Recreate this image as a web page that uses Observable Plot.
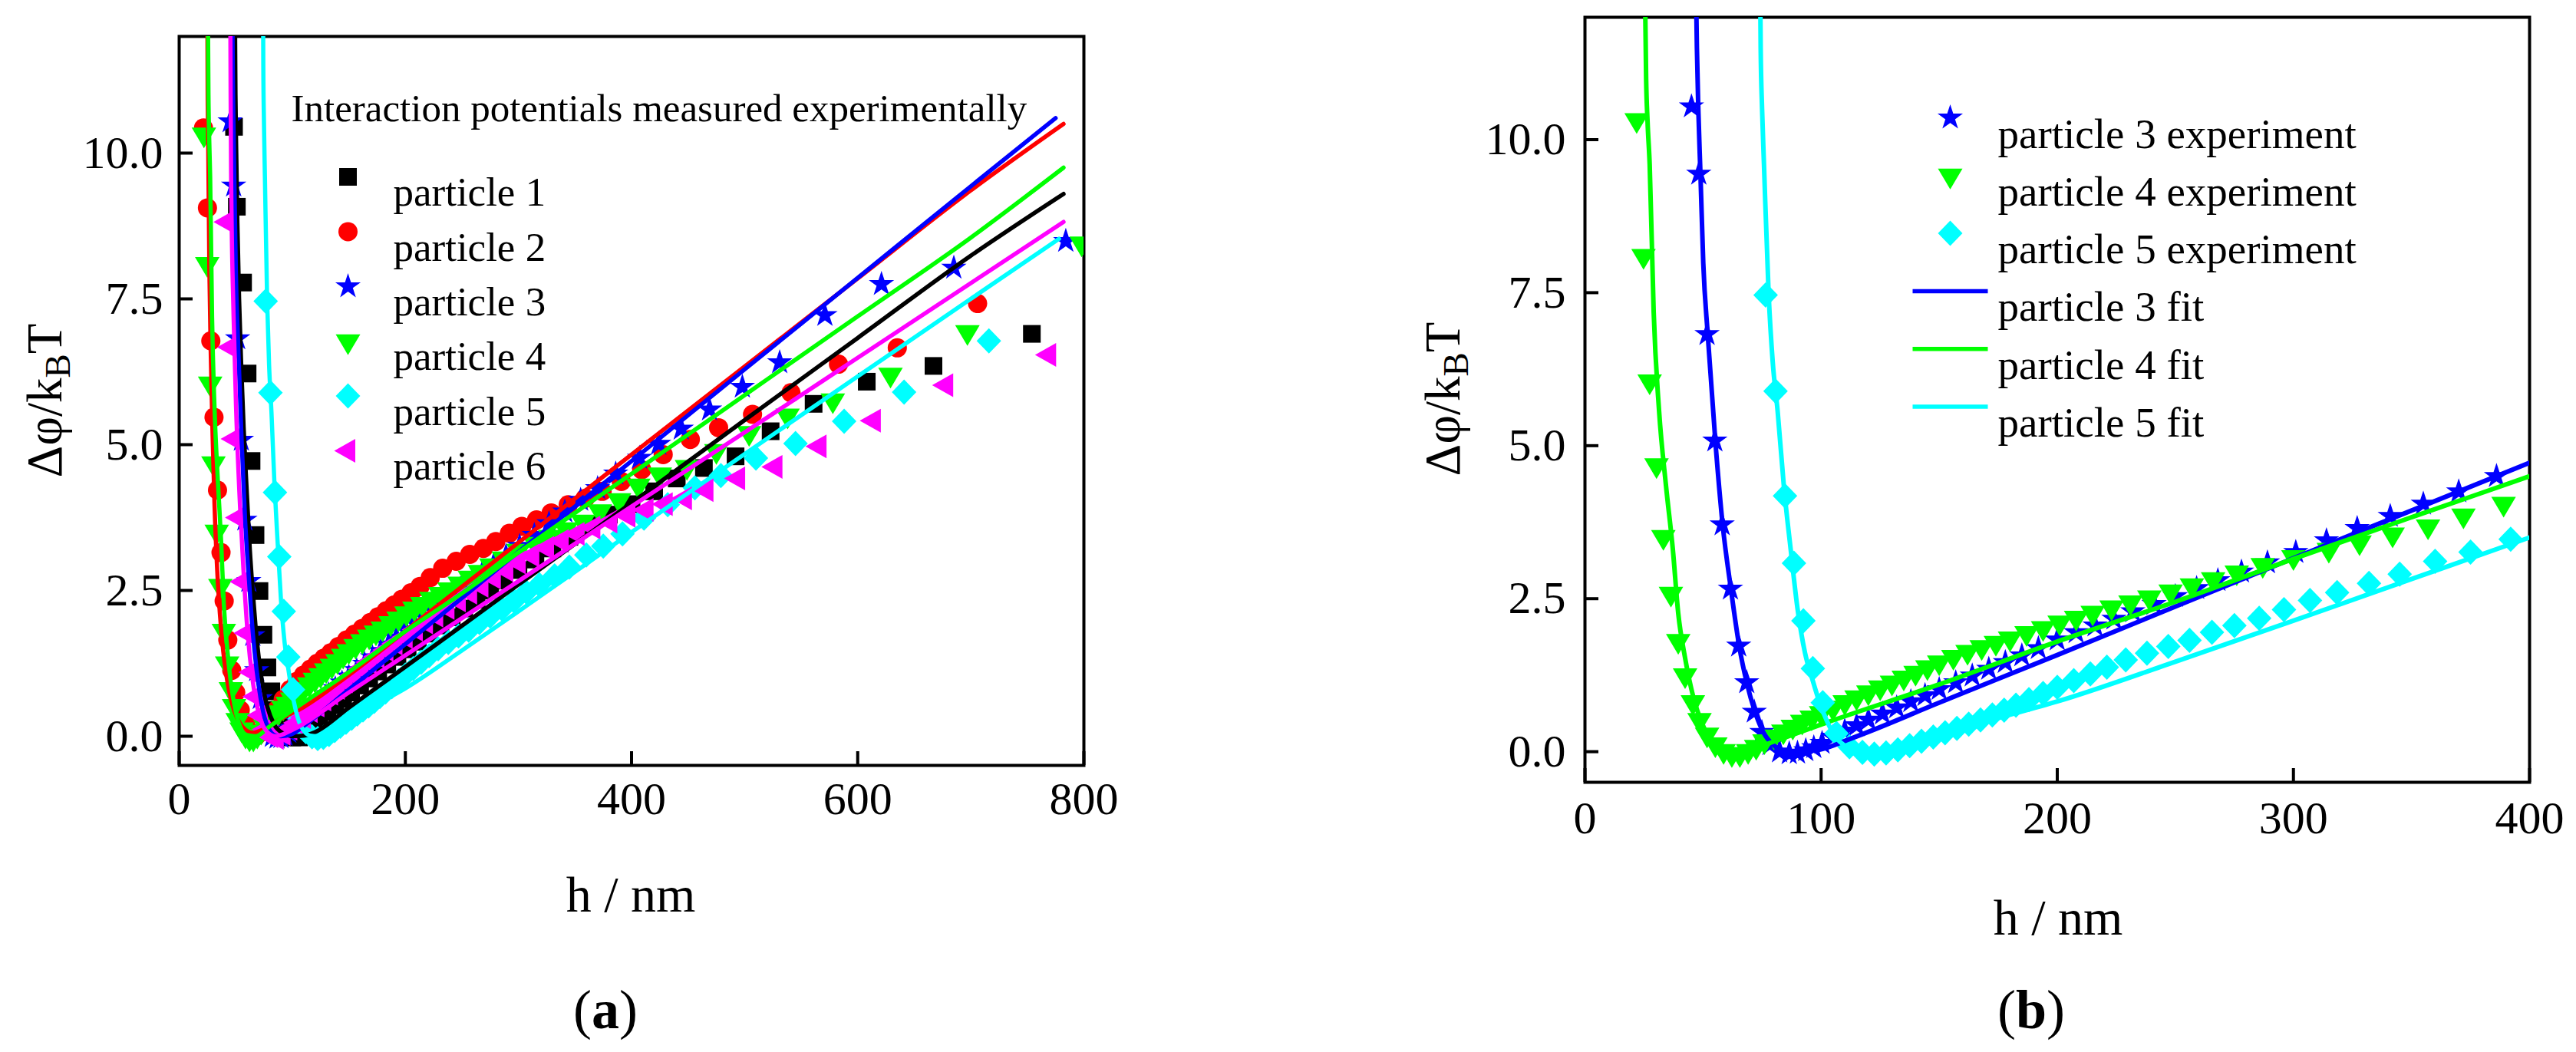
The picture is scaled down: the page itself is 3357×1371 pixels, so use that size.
<!DOCTYPE html>
<html>
<head>
<meta charset="utf-8">
<script src="https://cdn.jsdelivr.net/npm/d3@7"></script>
<script src="https://cdn.jsdelivr.net/npm/@observablehq/plot@0.6"></script>
<style>
  body { margin: 0; background: #fff; }
  #wrap { position: relative; width: 3357px; height: 1371px; font-family: "Liberation Serif", serif; color: #000; }
  .panel { position: absolute; top: 0; }
  .lab { position: absolute; white-space: nowrap; line-height: 1; }
  .ylab { transform: translate(-50%, -50%) rotate(-90deg); font-size: 65px; }
  .xlab { transform: translateX(-50%); font-size: 66px; }
  .tag { transform: translateX(-50%); font-size: 72px; }
  sub { font-size: 0.72em; vertical-align: -0.25em; line-height: 0; }
</style>
</head>
<body>
<div id="wrap">
  <div id="pa" class="panel" style="left:0"></div>
  <div id="pb" class="panel" style="left:1680px"></div>
  <div class="lab ylab" style="left:58px; top:522px">Δφ/k<sub>B</sub>T</div>
  <div class="lab ylab" style="left:1880px; top:520px">Δφ/k<sub>B</sub>T</div>
  <div class="lab xlab" style="left:822px; top:1133px">h / nm</div>
  <div class="lab xlab" style="left:2682px; top:1163px">h / nm</div>
  <div class="lab tag" style="left:789px; top:1280px">(<b>a</b>)</div>
  <div class="lab tag" style="left:2647px; top:1280px">(<b>b</b>)</div>
</div>
<script>
// measured points [h (nm), Δφ/kBT]
const p1Exp = [[48.5,10.45],[51,9.08],[56.5,7.78],[60.5,6.22],[64,4.72],[67.5,3.45],[71,2.49],[74.5,1.74],[78,1.18],[81.5,0.77],[85,0.45],[89,0.22],[94,0.06],[100,-0.02],[106,-0.02],[112,0.08],[118,0.2],[124,0.3],[131,0.42],[138,0.53],[145,0.64],[152,0.75],[160,0.87],[168,0.99],[176,1.11],[184,1.23],[193,1.36],[202,1.49],[211,1.62],[221,1.76],[231,1.9],[241,2.04],[252,2.19],[263,2.34],[275,2.5],[287,2.67],[300,2.85],[315,3.03],[330,3.22],[345,3.42],[362,3.62],[380,3.8],[400,3.98],[420,4.2],[440,4.42],[464,4.6],[492,4.8],[523,5.23],[561,5.7],[608,6.08],[667,6.35],[754,6.9]];
const p2Exp = [[21.5,10.43],[25,9.06],[28,6.78],[30.8,5.47],[33.9,4.22],[37,3.15],[39.8,2.32],[43,1.65],[46.5,1.13],[50,0.75],[54,0.45],[58.5,0.22],[63,0.07],[68,0],[74,0.08],[80,0.25],[86,0.45],[92,0.63],[98,0.8],[104,0.94],[110,1.05],[116,1.15],[122,1.25],[128,1.34],[134,1.43],[141,1.54],[148,1.65],[155,1.75],[162,1.85],[169,1.95],[176,2.05],[183,2.15],[190,2.25],[197,2.35],[205,2.46],[213,2.57],[222,2.72],[233,2.88],[245,3.0],[257,3.12],[269,3.22],[280,3.34],[292,3.48],[303,3.6],[316,3.71],[329,3.83],[344,3.97],[359,4.08],[374,4.2],[391,4.37],[409,4.57],[428,4.83],[452,5.09],[477,5.29],[507,5.52],[541,5.89],[583,6.38],[635,6.66],[706,7.42]];
const p3Exp = [[45.1,10.54],[48.2,9.44],[51.7,6.82],[55,5.08],[58.1,3.71],[61.6,2.66],[65.1,1.73],[68.5,1.13],[71.7,0.65],[74.9,0.32],[78.4,0.12],[82.4,0],[86.5,-0.03],[90,-0.02],[93.5,0.02],[96.9,0.07],[100.4,0.14],[105,0.24],[110,0.34],[115,0.43],[120,0.52],[126,0.62],[132,0.72],[138,0.82],[144,0.92],[150,1.02],[157,1.13],[164,1.24],[171,1.35],[178,1.46],[185,1.57],[192,1.69],[200,1.83],[208,1.95],[216,2.06],[224,2.17],[232,2.29],[241,2.41],[250,2.54],[259,2.67],[268,2.8],[278,2.94],[289,3.09],[301,3.26],[314,3.45],[327,3.65],[341,3.85],[355,4.05],[370,4.25],[386,4.5],[407,4.77],[424,5.01],[444,5.27],[469,5.6],[498,5.99],[531,6.41],[571,7.22],[621,7.75],[685,8.03],[784,8.49]];
const p4Exp = [[21.9,10.32],[24.8,8.1],[27.4,6.05],[30.3,4.68],[33.2,3.51],[36.4,2.58],[39.5,1.81],[42.4,1.25],[45.7,0.81],[48.5,0.52],[51.7,0.28],[55.2,0.12],[58.7,0.01],[62.2,-0.04],[65.6,-0.04],[69.1,0.01],[72.5,0.08],[76,0.17],[80,0.25],[84,0.33],[88,0.41],[92,0.49],[96,0.56],[100,0.63],[105,0.72],[110,0.81],[115,0.89],[120,0.97],[125,1.05],[130,1.13],[135,1.21],[140,1.29],[145,1.38],[150,1.46],[156,1.55],[162,1.63],[168,1.71],[174,1.78],[180,1.85],[187,1.94],[194,2.02],[201,2.11],[208,2.19],[215,2.27],[223,2.36],[231,2.44],[239,2.52],[248,2.62],[257,2.72],[266,2.82],[276,2.93],[287,3.05],[300,3.18],[315,3.3],[328,3.42],[342,3.55],[357,3.68],[372,3.86],[389,4.05],[406,4.3],[425,4.49],[449,4.62],[475,4.89],[504,5.2],[538,5.5],[578,5.76],[629,6.2],[697,6.93],[798,8.45]];
const p5Exp = [[76.5,7.46],[80.7,5.89],[84.7,4.18],[88.5,3.08],[92.5,2.14],[96.5,1.36],[100.7,0.8],[106.5,0.3],[112,0.08],[117.5,-0.01],[122.5,-0.04],[127.5,-0.02],[132.5,0.03],[137.5,0.1],[142.5,0.17],[147.5,0.24],[152.5,0.31],[157.5,0.38],[162.5,0.45],[167.5,0.52],[172.5,0.6],[177.5,0.68],[182.5,0.76],[188,0.85],[194,0.95],[200,1.05],[207,1.16],[214,1.27],[221,1.38],[229,1.5],[238,1.61],[247,1.72],[256,1.82],[265.5,1.95],[275,2.06],[285.5,2.18],[296,2.32],[307,2.47],[318.5,2.6],[332,2.75],[345,2.9],[360,3.11],[375,3.26],[392,3.47],[411,3.74],[432,3.97],[456,4.26],[479,4.47],[510,4.77],[545,5.02],[588,5.4],[641,5.9],[716,6.78]];
const p6Exp = [[42.5,8.82],[45.8,6.67],[48.8,5.1],[52.7,3.75],[56.8,2.65],[60.3,1.77],[64.5,1.1],[68,0.68],[72,0.36],[76.5,0.12],[81,0],[86,-0.03],[92,0.04],[98,0.13],[104,0.23],[110,0.33],[116,0.43],[122,0.53],[128,0.63],[134,0.73],[140,0.83],[147,0.94],[154,1.05],[161,1.16],[168,1.27],[175,1.37],[183,1.48],[191,1.59],[200,1.7],[209,1.83],[218,1.95],[227,2.07],[237,2.2],[247,2.33],[257,2.46],[267,2.58],[278,2.72],[289,2.85],[300,2.98],[312,3.1],[325,3.23],[338,3.35],[352,3.47],[366,3.58],[381,3.68],[397,3.78],[413,3.88],[430,3.98],[447,4.08],[466,4.22],[494,4.42],[527,4.62],[566,4.97],[614,5.41],[678,6.02],[769,6.54]];

// fitted curves
const p1Fit = [[49.3,12.5],[49.8,11],[50.5,10],[51.5,8.8],[53,7.5],[55,6.3],[57,5.3],[59.5,4.3],[62.5,3.2],[65,2.5],[67.5,1.9],[71,1.25],[74.5,0.8],[78,0.5],[84,0.2],[92,0.05],[101,0],[110,0.01],[120,0.07],[150,0.49],[200,1.19],[300,2.6],[400,4.0],[500,5.42],[600,6.83],[700,8.24],[782,9.3]];
const p2Fit = [[24.9,12.5],[25.2,11],[25.6,10.3],[26.7,8],[28,6.5],[29.5,5.2],[31.2,4],[33.5,2.9],[36,2.1],[39,1.45],[42.5,0.95],[46.5,0.58],[51.5,0.3],[58,0.12],[65,0.06],[75,0.12],[90,0.3],[110,0.5],[150,1.05],[220,2.11],[300,3.32],[400,4.83],[500,6.34],[600,7.85],[700,9.36],[782,10.5]];
const p3Fit = [[47,12.5],[47.4,11.5],[48,10.5],[48.9,9.44],[50.1,7.98],[52,6.81],[55.2,5.08],[58.3,3.71],[61.8,2.66],[65.3,1.73],[68.5,1.13],[72,0.65],[75.5,0.32],[79.5,0.12],[84.2,0.02],[90,0],[99,0.03],[113,0.22],[150,0.8],[200,1.58],[250,2.37],[300,3.16],[350,3.94],[400,4.72],[500,6.29],[600,7.86],[700,9.43],[775,10.6]];
const p4Fit = [[25.4,12.5],[25.9,11],[26.5,10.3],[27.4,9.6],[29.1,7.18],[31.4,5.56],[34.3,4.35],[37.2,3.31],[39.5,2.26],[42.4,1.53],[45.9,0.89],[49.4,0.48],[54,0.16],[59.8,0.02],[67.8,0],[79.5,0.16],[102.6,0.48],[150,1.1],[200,1.8],[250,2.45],[300,3.15],[350,3.83],[400,4.5],[500,5.85],[600,7.2],[700,8.55],[782,9.75]];
const p5Fit = [[74.2,12.5],[74.4,11.5],[75,10.5],[75.8,9.6],[77.8,7.46],[79.5,6.37],[81.6,5.56],[84.2,4.35],[87.1,3.31],[90,2.34],[93.2,1.61],[96.4,1.17],[99.3,0.81],[102.7,0.48],[106.2,0.24],[110.7,0.08],[116,0.01],[122,0],[130,0.05],[150,0.28],[175,0.55],[200,0.82],[250,1.47],[300,2.14],[350,2.82],[400,3.5],[500,4.84],[600,6.17],[700,7.5],[778,8.53]];
const p6Fit = [[45.2,12.5],[45.5,11],[45.9,9.66],[48.1,7.21],[50.4,5.58],[53.8,3.95],[57.2,2.73],[60.6,1.75],[65.1,0.94],[70.7,0.37],[77.5,0.08],[85.4,0],[100,0.11],[150,0.75],[220.6,1.65],[300,2.66],[400,3.94],[500,5.21],[600,6.49],[700,7.77],[782,8.82]];

const yTicks = [0, 2.5, 5, 7.5, 10];
const xTicksA = [0, 200, 400, 600, 800];
const xTicksB = [0, 100, 200, 300, 400];
const titleA = "Interaction potentials measured experimentally";

// marker shapes
const sym = {
  square: {draw(c) { c.rect(-11.5, -11.5, 23, 23); }},
  circle: {draw(c) { c.moveTo(12.5, 0); c.arc(0, 0, 12.5, 0, 2 * Math.PI); }},
  star: {draw(c) { d3.symbolStar.draw(c, 340); }},
  down: {draw(c) { c.moveTo(-16, -9); c.lineTo(16, -9); c.lineTo(0, 18); c.closePath(); }},
  diamond: {draw(c) { c.moveTo(0, -16.5); c.lineTo(16, 0); c.lineTo(0, 16.5); c.lineTo(-16, 0); c.closePath(); }},
  left: {draw(c) { c.moveTo(-18, 0); c.lineTo(9.5, -15.5); c.lineTo(9.5, 15.5); c.closePath(); }},
  dash: {draw(c) { c.moveTo(-49, 0); c.lineTo(49, 0); }}
};

const rows = pts => pts.map(([h, phi]) => ({h, phi}));

const series = [
  {name: "particle 1", color: "#000000", symbol: sym.square, exp: p1Exp, fit: p1Fit},
  {name: "particle 2", color: "#ff0000", symbol: sym.circle, exp: p2Exp, fit: p2Fit},
  {name: "particle 3", color: "#0000ff", symbol: sym.star, exp: p3Exp, fit: p3Fit},
  {name: "particle 4", color: "#00ff00", symbol: sym.down, exp: p4Exp, fit: p4Fit},
  {name: "particle 5", color: "#00ffff", symbol: sym.diamond, exp: p5Exp, fit: p5Fit},
  {name: "particle 6", color: "#ff00ff", symbol: sym.left, exp: p6Exp, fit: p6Fit}
];

function axes(tickPadX, tickPadY, xTicks) {
  return [
    Plot.axisY({ticks: yTicks, tickFormat: d3.format(".1f"), tickSize: -18, tickPadding: tickPadY, strokeWidth: 4, label: null, fontSize: 60}),
    Plot.axisX({ticks: xTicks, tickFormat: d3.format("d"), tickSize: -18, tickPadding: tickPadX, strokeWidth: 4, label: null, fontSize: 60}),
    Plot.frame({stroke: "black", strokeWidth: 4})
  ];
}

function dataMarks(list, lw) {
  const dots = list.map(s => Plot.dot(rows(s.exp), {x: "h", y: "phi", symbol: s.symbol, fill: s.color, stroke: "none", r: 10, clip: true}));
  const lines = list.map(s => Plot.line(rows(s.fit), {x: "h", y: "phi", stroke: s.color, strokeWidth: lw, curve: "monotone-x", clip: true}));
  return [...dots, ...lines];
}

// panel (a)
const legendA = [];
legendA.push(Plot.text([titleA], {frameAnchor: "top-left", dx: 146, dy: 74, text: d => d, textAnchor: "start", fontSize: 51}));
series.forEach((s, i) => {
  legendA.push(Plot.dot([s], {frameAnchor: "top-left", dx: 220, dy: 183 + i * 71.4, symbol: s.symbol, fill: s.color, stroke: "none", r: 10}));
  legendA.push(Plot.text([s.name], {frameAnchor: "top-left", dx: 279, dy: 183 + i * 71.4, text: d => d, textAnchor: "start", fontSize: 53}));
});

const plotA = Plot.plot({
  width: 1680, height: 1371,
  marginLeft: 233, marginRight: 268, marginTop: 47, marginBottom: 374,
  style: {fontFamily: "Liberation Serif", fontSize: "60px", color: "black", background: "transparent", overflow: "visible"},
  x: {domain: [0, 800]},
  y: {domain: [-0.5, 12]},
  marks: [...axes(39, 39, xTicksA), ...dataMarks(series, 5.5), ...legendA]
});
document.getElementById("pa").appendChild(plotA);

// panel (b)
const sub = series.slice(2, 5);
const legendB = [];
sub.forEach((s, i) => {
  legendB.push(Plot.dot([s], {frameAnchor: "top-left", dx: 476, dy: 131 + i * 75.3, symbol: s.symbol, fill: s.color, stroke: "none", r: 10}));
  legendB.push(Plot.text([s.name + " experiment"], {frameAnchor: "top-left", dx: 538, dy: 131 + i * 75.3, text: d => d, textAnchor: "start", fontSize: 55}));
});
sub.forEach((s, i) => {
  const k = i + 3;
  legendB.push(Plot.dot([s], {frameAnchor: "top-left", dx: 476, dy: 131 + k * 75.3, symbol: sym.dash, fill: "none", stroke: s.color, strokeWidth: 5.5, r: 10}));
  legendB.push(Plot.text([s.name + " fit"], {frameAnchor: "top-left", dx: 538, dy: 131 + k * 75.3, text: d => d, textAnchor: "start", fontSize: 55}));
});

const plotB = Plot.plot({
  width: 1677, height: 1371,
  marginLeft: 385, marginRight: 61, marginTop: 22, marginBottom: 352,
  style: {fontFamily: "Liberation Serif", fontSize: "60px", color: "black", background: "transparent", overflow: "visible"},
  x: {domain: [0, 400]},
  y: {domain: [-0.5, 12]},
  marks: [...axes(42, 43, xTicksB), ...dataMarks(sub, 6), ...legendB]
});
document.getElementById("pb").appendChild(plotB);
</script>
</body>
</html>
